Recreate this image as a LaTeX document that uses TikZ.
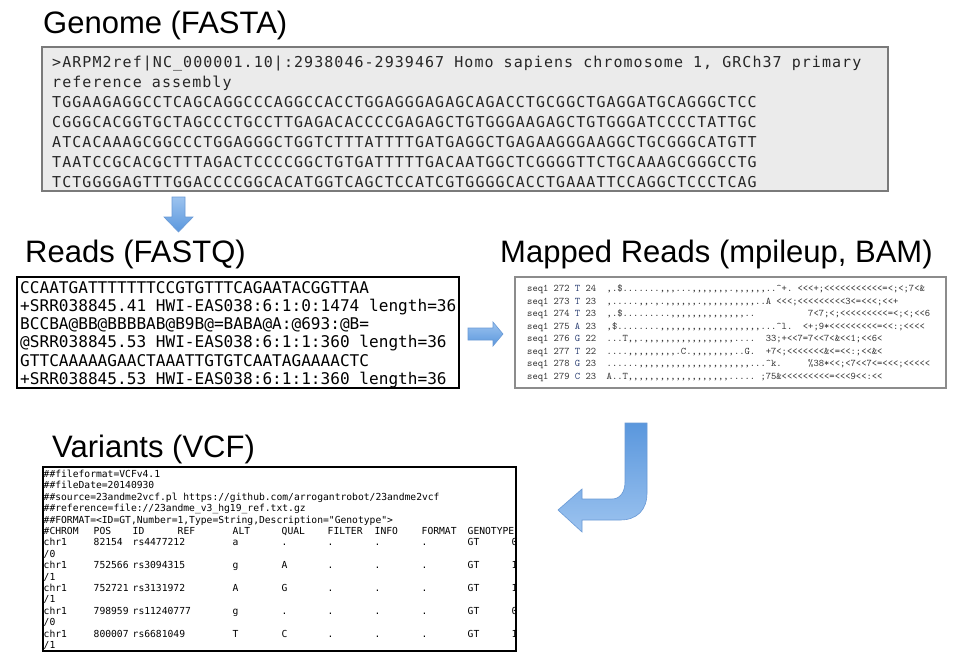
\documentclass[tikz,border=0pt]{standalone}
\usepackage{fontspec}
\usepackage{xcolor}
\usepackage{tikz}
\usetikzlibrary{positioning}
\newfontfamily\titlefont{Liberation Sans}
\newfontfamily\fastafont[LetterSpace=7]{DejaVu Sans Mono}
\newfontfamily\readfont{DejaVu Sans Mono}
\definecolor{boxgray}{HTML}{7A7A7A}
\definecolor{pilegray}{HTML}{8C8C8C}
\definecolor{fastafill}{HTML}{EBEBEB}
\definecolor{arrowtop}{HTML}{9CC3EF}
\definecolor{arrowbot}{HTML}{5A97DD}
\definecolor{arrowline}{HTML}{6A9AD6}
\definecolor{basecol}{HTML}{2B3F73}
\tikzset{
  ttl/.style={font=\titlefont\fontsize{31}{36}\selectfont, anchor=base west, inner sep=0pt},
  fastabox/.style={rectangle, draw=boxgray, fill=fastafill, line width=1.8pt,
    anchor=north west, inner sep=0pt, outer sep=0pt},
  readbox/.style={rectangle, draw=black, fill=white, line width=1.1pt,
    anchor=north west, inner sep=0pt, outer sep=0pt},
  pilebox/.style={rectangle, draw=pilegray, fill=white, line width=1.4pt,
    anchor=north west, inner sep=0pt, outer sep=0pt},
  fastaline/.style={font=\fastafont\fontsize{15}{20}\selectfont, text=black!85,
    anchor=base west, inner sep=0pt},
  readline/.style={font=\readfont\fontsize{16.1}{18}\selectfont, text=black,
    anchor=base west, inner sep=0pt},
  pileline/.style={font=\ttfamily\fontsize{10.1}{12}\selectfont, text=black!80,
    anchor=base west, inner sep=0pt},
  vcfline/.style={font=\readfont\fontsize{9.67}{11}\selectfont, text=black,
    anchor=base west, inner sep=0pt},
  blockarrow/.style={top color=arrowtop, bottom color=arrowbot, draw=arrowline, line width=0.6pt},
  jarrow/.style={top color=arrowbot, bottom color=arrowtop, draw=arrowline, line width=0.6pt},
}
\frenchspacing
\newcommand{\vc}[2]{\makebox[#1pt][l]{#2}}
\newcommand{\vrow}[6]{\vc{50}{#1}\vc{39}{#2}\vc{100}{#3}\vc{49}{#4}\vc{46}{#5}\vc{47}{.}\vc{47}{.}\vc{46}{.}\vc{44}{GT}#6}
\newcommand{\rb}[1]{\textcolor{basecol}{#1}}

\begin{document}
\begin{tikzpicture}[x=1pt, y=-1pt]
\useasboundingbox[fill=white] (0,0) rectangle (953,654);
% ---- titles ----
\node[ttl] (ttlgenome) at (43,33) {Genome (FASTA)};
\node[ttl] (ttlreads) at (25,262) {Reads (FASTQ)};
\node[ttl] (ttlmapped) at (500,262) {Mapped Reads (mpileup, BAM)};
\node[ttl] (ttlvcf) at (52,457) {Variants (VCF)};
% ---- boxes ----
\node[fastabox, minimum width=846, minimum height=144] (fasta) at (42,47) {};
\node[readbox, minimum width=442, minimum height=111] (fastq) at (17,277) {};
\node[pilebox, minimum width=431, minimum height=111] (pileup) at (515,277) {};
\node[readbox, minimum width=473, minimum height=184] (vcf) at (43,467) {};
% ---- genome text ----
\foreach \ln [count=\i] in {
  {>ARPM2ref|NC\_000001.10|:2938046-2939467 Homo sapiens chromosome 1, GRCh37 primary},
  {reference assembly},
  {TGGAAGAGGCCTCAGCAGGCCCAGGCCACCTGGAGGGAGAGCAGACCTGCGGCTGAGGATGCAGGGCTCC},
  {CGGGCACGGTGCTAGCCCTGCCTTGAGACACCCCGAGAGCTGTGGGAAGAGCTGTGGGATCCCCTATTGC},
  {ATCACAAAGCGGCCCTGGAGGGCTGGTCTTTATTTTGATGAGGCTGAGAAGGGAAGGCTGCGGGCATGTT},
  {TAATCCGCACGCTTTAGACTCCCCGGCTGTGATTTTTGACAATGGCTCGGGGTTCTGCAAAGCGGGCCTG},
  {TCTGGGGAGTTTGGACCCCGGCACATGGTCAGCTCCATCGTGGGGCACCTGAAATTCCAGGCTCCCTCAG}}
  \node[fastaline] (fa\i) at (52,47+20*\i) {\ln};
% ---- reads text ----
\foreach \ln [count=\i] in {
  {CCAATGATTTTTTTCCGTGTTTCAGAATACGGTTAA},
  {+SRR038845.41 HWI-EAS038:6:1:0:1474 length=36},
  {BCCBA@BB@BBBBAB@B9B@=BABA@A:@693:@B=},
  {@SRR038845.53 HWI-EAS038:6:1:1:360 length=36},
  {GTTCAAAAAGAACTAAATTGTGTCAATAGAAAACTC},
  {+SRR038845.53 HWI-EAS038:6:1:1:360 length=36}}
  \node[readline] (fq\i) at (20,274.7+18.3*\i) {\ln};
% ---- mpileup text ----
\node[pileline] (mp1) at (527,291.5) {seq1 272 \rb{T} 24~~,.\$.......,,,...,,,,,,,.,,,,,,..\textasciicircum+.~<<<+;<<<<<<<<<<<=<;<;7<\&};
\node[pileline] (mp2) at (527,304) {seq1 273 \rb{T} 23~~,.....,,.,.,,,,,,.,,,,,,,,,,..A~<<<;<<<<<<<<<3<=<<<;<<+};
\node[pileline] (mp3) at (527,316.5) {seq1 274 \rb{T} 23~~,.\$.........,,,,,,,,,,,,,,..~~~~~~~~~~7<7;<;<<<<<<<<<=<;<;<<6};
\node[pileline] (mp4) at (527,329) {seq1 275 \rb{A} 23~~,\$........,,,,,,,,,,,,,,,,,,,...\textasciicircum l.~~<+;9*<<<<<<<<<=<<:;<<<<};
\node[pileline] (mp5) at (527,341.5) {seq1 276 \rb{G} 22~~...T,,.,,,,,,,,,,,,,,,,,....~~33;+<<7=7<<7<\&<<1;<<6<};
\node[pileline] (mp6) at (527,354) {seq1 277 \rb{T} 22~~....,,,,,,,,,.C.,,,,,,,,..G.~~+7<;<<<<<<<\&<=<<:;<<\&<};
\node[pileline] (mp7) at (527,366.5) {seq1 278 \rb{G} 23~~......,,,,,,,,,,,,,,,,,,,,,...\textasciicircum k.~~~~~\%38*<<;<7<<7<=<<<;<<<<<};
\node[pileline] (mp8) at (527,379) {seq1 279 \rb{C} 23~~A..T,,,,,,,,,,,,,,,,,,,.....~;75\&<<<<<<<<<=<<<9<<:<<};
% ---- vcf text (clipped at the box edge) ----
\begin{scope}
\clip (vcf.north west) rectangle (vcf.south east);
\foreach \ln [count=\i] in {
  {\#\#fileformat=VCFv4.1},
  {\#\#fileDate=20140930},
  {\#\#source=23andme2vcf.pl https://github.com/arrogantrobot/23andme2vcf},
  {\#\#reference=file://23andme\_v3\_hg19\_ref.txt.gz},
  {\#\#FORMAT=<ID=GT,Number=1,Type=String,Description="Genotype">},
  {\vc{50}{\#CHROM}\vc{39}{POS}\vc{45}{ID}\vc{55}{REF}\vc{49}{ALT}\vc{46}{QUAL}\vc{47}{FILTER}\vc{47}{INFO}\vc{46}{FORMAT}GENOTYPE},
  {\vrow{chr1}{82154}{rs4477212}{a}{.}{0}}, {/0},
  {\vrow{chr1}{752566}{rs3094315}{g}{A}{1}}, {/1},
  {\vrow{chr1}{752721}{rs3131972}{A}{G}{1}}, {/1},
  {\vrow{chr1}{798959}{rs11240777}{g}{.}{0}}, {/0},
  {\vrow{chr1}{800007}{rs6681049}{T}{C}{1}}, {/1}}
  \node[vcfline] (vc\i) at (43.5,466.1+11.4*\i) {\ln};
\end{scope}
% ---- block arrows ----
\path[blockarrow] (172,197) -- (185,197) -- (185,217) -- (193,217) -- (178.5,232)
  -- (164,217) -- (172,217) -- cycle;
\path[blockarrow] (468,328) -- (493,328) -- (493,322) -- (503,334) -- (493,346)
  -- (493,340) -- (468,340) -- cycle;
\path[jarrow] (625,423) -- (647,423) -- (647,493) .. controls (647,510) and (637,520) .. (620,520)
  -- (582,520) -- (582,532) -- (558,510) -- (582,489) -- (582,499) -- (612,499)
  .. controls (620,499) and (625,492) .. (625,482) -- cycle;
\end{tikzpicture}
\end{document}
